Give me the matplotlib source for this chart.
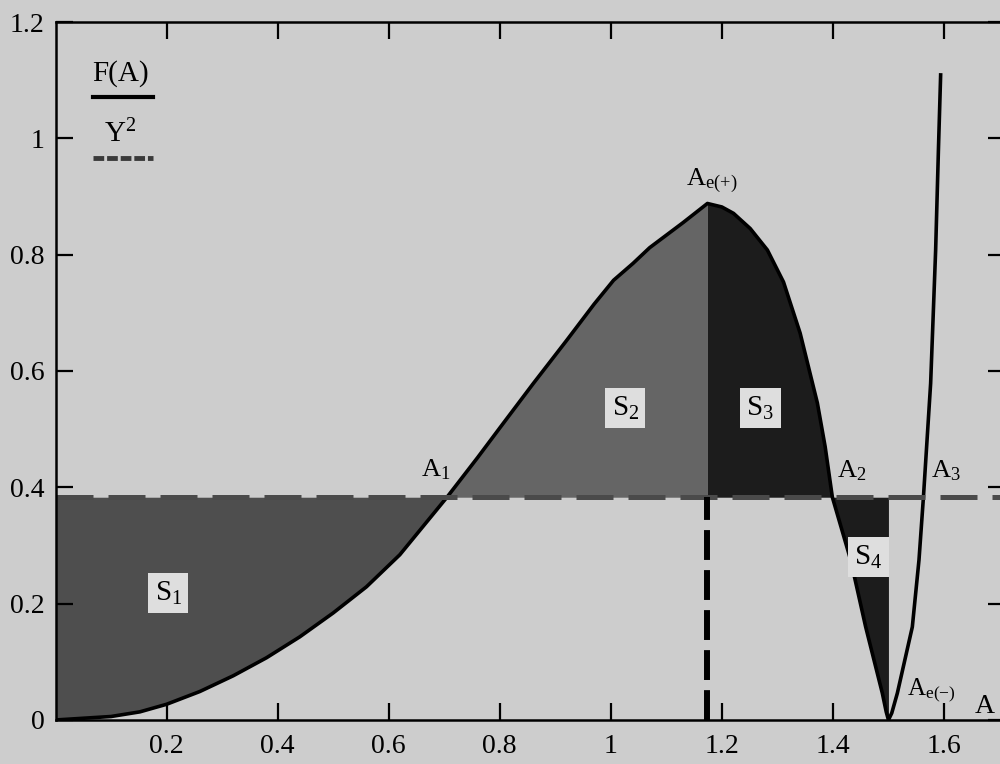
import numpy as np
import matplotlib
matplotlib.use("Agg")
import matplotlib.pyplot as plt

# F(A)
A = np.array([0.00, 0.10, 0.152, 0.20, 0.26, 0.32, 0.38, 0.44, 0.50, 0.56, 0.62,
              0.705, 0.76, 0.80, 0.86, 0.92, 0.97, 1.005, 1.04, 1.07, 1.13, 1.15, 1.174,
              1.20, 1.221, 1.251, 1.282, 1.311, 1.341, 1.372, 1.386, 1.399, 1.432, 1.459,
              1.489, 1.496, 1.50, 1.506, 1.516, 1.543, 1.555, 1.563, 1.576, 1.585,
              1.590, 1.594])
F = np.array([0.000, 0.006, 0.014, 0.027, 0.049, 0.076, 0.107, 0.143, 0.184, 0.229, 0.284,
              0.383, 0.451, 0.502, 0.578, 0.652, 0.715, 0.756, 0.785, 0.812, 0.855, 0.870, 0.888,
              0.882, 0.871, 0.845, 0.808, 0.753, 0.665, 0.545, 0.470, 0.383, 0.275, 0.160,
              0.046, 0.014, 0.000, 0.012, 0.046, 0.160, 0.275, 0.383, 0.579, 0.808,
              0.980, 1.109])
Y2 = 0.383          # level of Y^2
A1, Ae_p, A2, Ae_m = 0.705, 1.174, 1.399, 1.50

xticks = [0.2, 0.4, 0.6, 0.8, 1.0, 1.2, 1.4, 1.6]
xlabels = ["0.2", "0.4", "0.6", "0.8", "1", "1.2", "1.4", "1.6"]
yticks = [0, 0.2, 0.4, 0.6, 0.8, 1.0, 1.2]
ylabels = ["0", "0.2", "0.4", "0.6", "0.8", "1", "1.2"]

paper = "#cdcdcd"
plt.rcParams['font.family'] = ['Liberation Serif', 'DejaVu Serif']
plt.rcParams['mathtext.fontset'] = 'custom'
plt.rcParams['mathtext.rm'] = 'Liberation Serif'
plt.rcParams['mathtext.it'] = 'Liberation Serif:italic'

fig = plt.figure(figsize=(10, 7.64), dpi=100, facecolor=paper)
ax = fig.add_axes([0.0555, 0.0576, 0.949, 0.9136])
ax.set_facecolor(paper)

# shaded areas between F(A) and Y^2
ax.fill_between(A, F, Y2, where=(A <= A1), color="#4e4e4e", interpolate=True, lw=0)
ax.fill_between(A, F, Y2, where=(A >= A1) & (A <= Ae_p), color="#656565", lw=0)
ax.fill_between(A, F, Y2, where=(A >= Ae_p) & (A <= A2), color="#1c1c1c", lw=0)
ax.fill_between(A, F, Y2, where=(A >= A2) & (A <= Ae_m), color="#1c1c1c", lw=0)

ax.plot(A, F, color="black", lw=2.6, solid_joinstyle="round")
ax.axhline(Y2, color="#4a4a4a", lw=3.6, dashes=(7.4, 3))
ax.plot([Ae_p, Ae_p], [0, Y2], color="black", lw=4.3, dashes=(5, 1.7))

# point labels
fs = 19
ax.text(0.684, 0.430, r"A$_1$", fontsize=fs, ha="center", va="center")
ax.text(1.136, 0.920, r"A$_{\mathrm{e(+)}}$", fontsize=fs, ha="left", va="baseline")
ax.text(1.408, 0.428, r"A$_2$", fontsize=fs, ha="left", va="center")
ax.text(1.577, 0.428, r"A$_3$", fontsize=fs, ha="left", va="center")
ax.text(1.534, 0.052, r"A$_{\mathrm{e(-)}}$", fontsize=fs - 1, ha="left", va="center")
ax.text(1.655, 0.024, "A", fontsize=20, ha="left", va="center")

box = dict(boxstyle="square,pad=0.22", facecolor="#dedede", edgecolor="none")
for sx, sy, s in [(0.203, 0.218, "1"), (1.026, 0.536, "2"), (1.269, 0.536, "3"), (1.464, 0.280, "4")]:
    ax.text(sx, sy, r"S$_%s$" % s, fontsize=21, ha="center", va="center", bbox=box)

# hand-drawn legend in the upper left corner
ax.text(0.069, 0.926, "F(A)", fontsize=21, ha="center", va="center", transform=ax.transAxes)
ax.plot([0.0395, 0.1027], [0.893, 0.893], color="black", lw=3, transform=ax.transAxes)
ax.text(0.068, 0.840, r"Y$^2$", fontsize=21, ha="center", va="center", transform=ax.transAxes)
ax.plot([0.0395, 0.1027], [0.805, 0.805], color="#3a3a3a", lw=3.5, dashes=(2.2, 0.6),
        transform=ax.transAxes)

ax.set_xlim(0, 1.709)
ax.set_ylim(0, 1.2)
ax.set_xticks(xticks)
ax.set_xticklabels(xlabels)
ax.set_yticks(yticks)
ax.set_yticklabels(ylabels)
ax.tick_params(direction="in", length=12, width=1.6, top=True, right=True, labelsize=20)
ax.tick_params(axis="x", pad=10)
ax.tick_params(axis="y", pad=8)
for sp in ax.spines.values():
    sp.set_linewidth(1.8)

fig.savefig("out.png", dpi=100, facecolor=paper)
